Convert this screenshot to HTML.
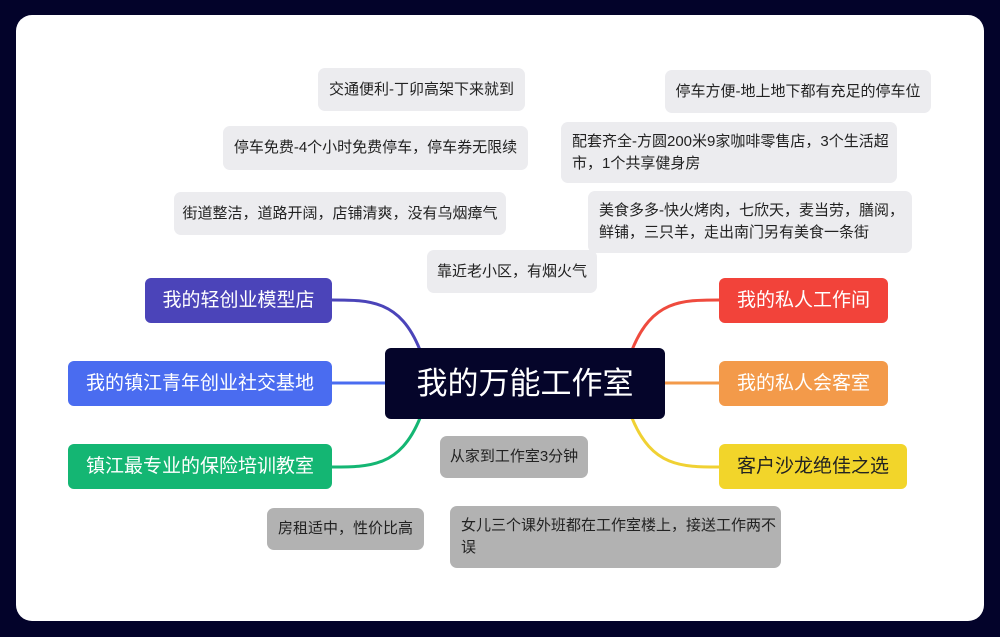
<!DOCTYPE html>
<html><head><meta charset="utf-8"><style>
body{margin:0;width:1000px;height:637px;background:#03032a;position:relative;overflow:hidden;font-family:"Liberation Sans","Noto Sans CJK SC",sans-serif}
.panel{position:absolute;left:16px;top:15px;width:968px;height:606px;background:#fff;border-radius:16px}
.n{position:absolute;box-sizing:border-box;border-radius:7px;display:flex;align-items:center;font-size:15px;color:#222;padding:0 11px;line-height:22px}
.s{white-space:nowrap;justify-content:center;padding:0}
.g{background:#ececef}
.d{background:#b2b2b2}
.m{color:#fff;font-size:19px;justify-content:center;border-radius:6px;white-space:nowrap;padding:0}
svg{position:absolute;left:0;top:0}
</style></head><body>
<div class="panel"></div>
<svg width="1000" height="637">
<g fill="none" stroke-width="3">
<path d="M420,350 C400,300 370,300 332,300" stroke="#4b44b9"/>
<path d="M332,383 L385,383" stroke="#4a6cf0"/>
<path d="M420,418 C400,467 370,467 332,467" stroke="#14b673"/>
<path d="M632,350 C652,300 682,300 719,300" stroke="#ef4b3e"/>
<path d="M665,383 L719,383" stroke="#f39a4a"/>
<path d="M632,418 C652,467 682,467 719,467" stroke="#f0d133"/>
</g>
</svg>
<div class="n m" style="left:385px;top:348px;width:280px;height:71px;background:#05052a;font-size:31px">我的万能工作室</div>
<div class="n m" style="left:145px;top:278px;width:187px;height:45px;background:#4b44b9">我的轻创业模型店</div>
<div class="n m" style="left:68px;top:361px;width:264px;height:45px;background:#4a6cf0">我的镇江青年创业社交基地</div>
<div class="n m" style="left:68px;top:444px;width:264px;height:45px;background:#14b673">镇江最专业的保险培训教室</div>
<div class="n m" style="left:719px;top:278px;width:169px;height:45px;background:#f2433a">我的私人工作间</div>
<div class="n m" style="left:719px;top:361px;width:169px;height:45px;background:#f39a4a">我的私人会客室</div>
<div class="n m" style="left:719px;top:444px;width:188px;height:45px;background:#f2d52a;color:#222">客户沙龙绝佳之选</div>
<div class="n g s" style="left:318px;top:68px;width:207px;height:43px">交通便利-丁卯高架下来就到</div>
<div class="n g s" style="left:223px;top:126px;width:305px;height:44px">停车免费-4个小时免费停车，停车券无限续</div>
<div class="n g s" style="left:174px;top:192px;width:332px;height:43px">街道整洁，道路开阔，店铺清爽，没有乌烟瘴气</div>
<div class="n g s" style="left:427px;top:250px;width:170px;height:43px">靠近老小区，有烟火气</div>
<div class="n g s" style="left:665px;top:70px;width:266px;height:43px">停车方便-地上地下都有充足的停车位</div>
<div class="n g" style="left:561px;top:122px;width:336px;height:61px;padding-right:8px">配套齐全-方圆200米9家咖啡零售店，3个生活超市，1个共享健身房</div>
<div class="n g" style="left:588px;top:191px;width:324px;height:62px;padding-right:8px">美食多多-快火烤肉，七欣天，麦当劳，膳阅，鲜铺，三只羊，走出南门另有美食一条街</div>
<div class="n d s" style="left:440px;top:436px;width:148px;height:42px">从家到工作室3分钟</div>
<div class="n d s" style="left:267px;top:508px;width:157px;height:42px">房租适中，性价比高</div>
<div class="n d" style="left:450px;top:506px;width:331px;height:62px;padding-right:2px">女儿三个课外班都在工作室楼上，接送工作两不误</div>
</body></html>
